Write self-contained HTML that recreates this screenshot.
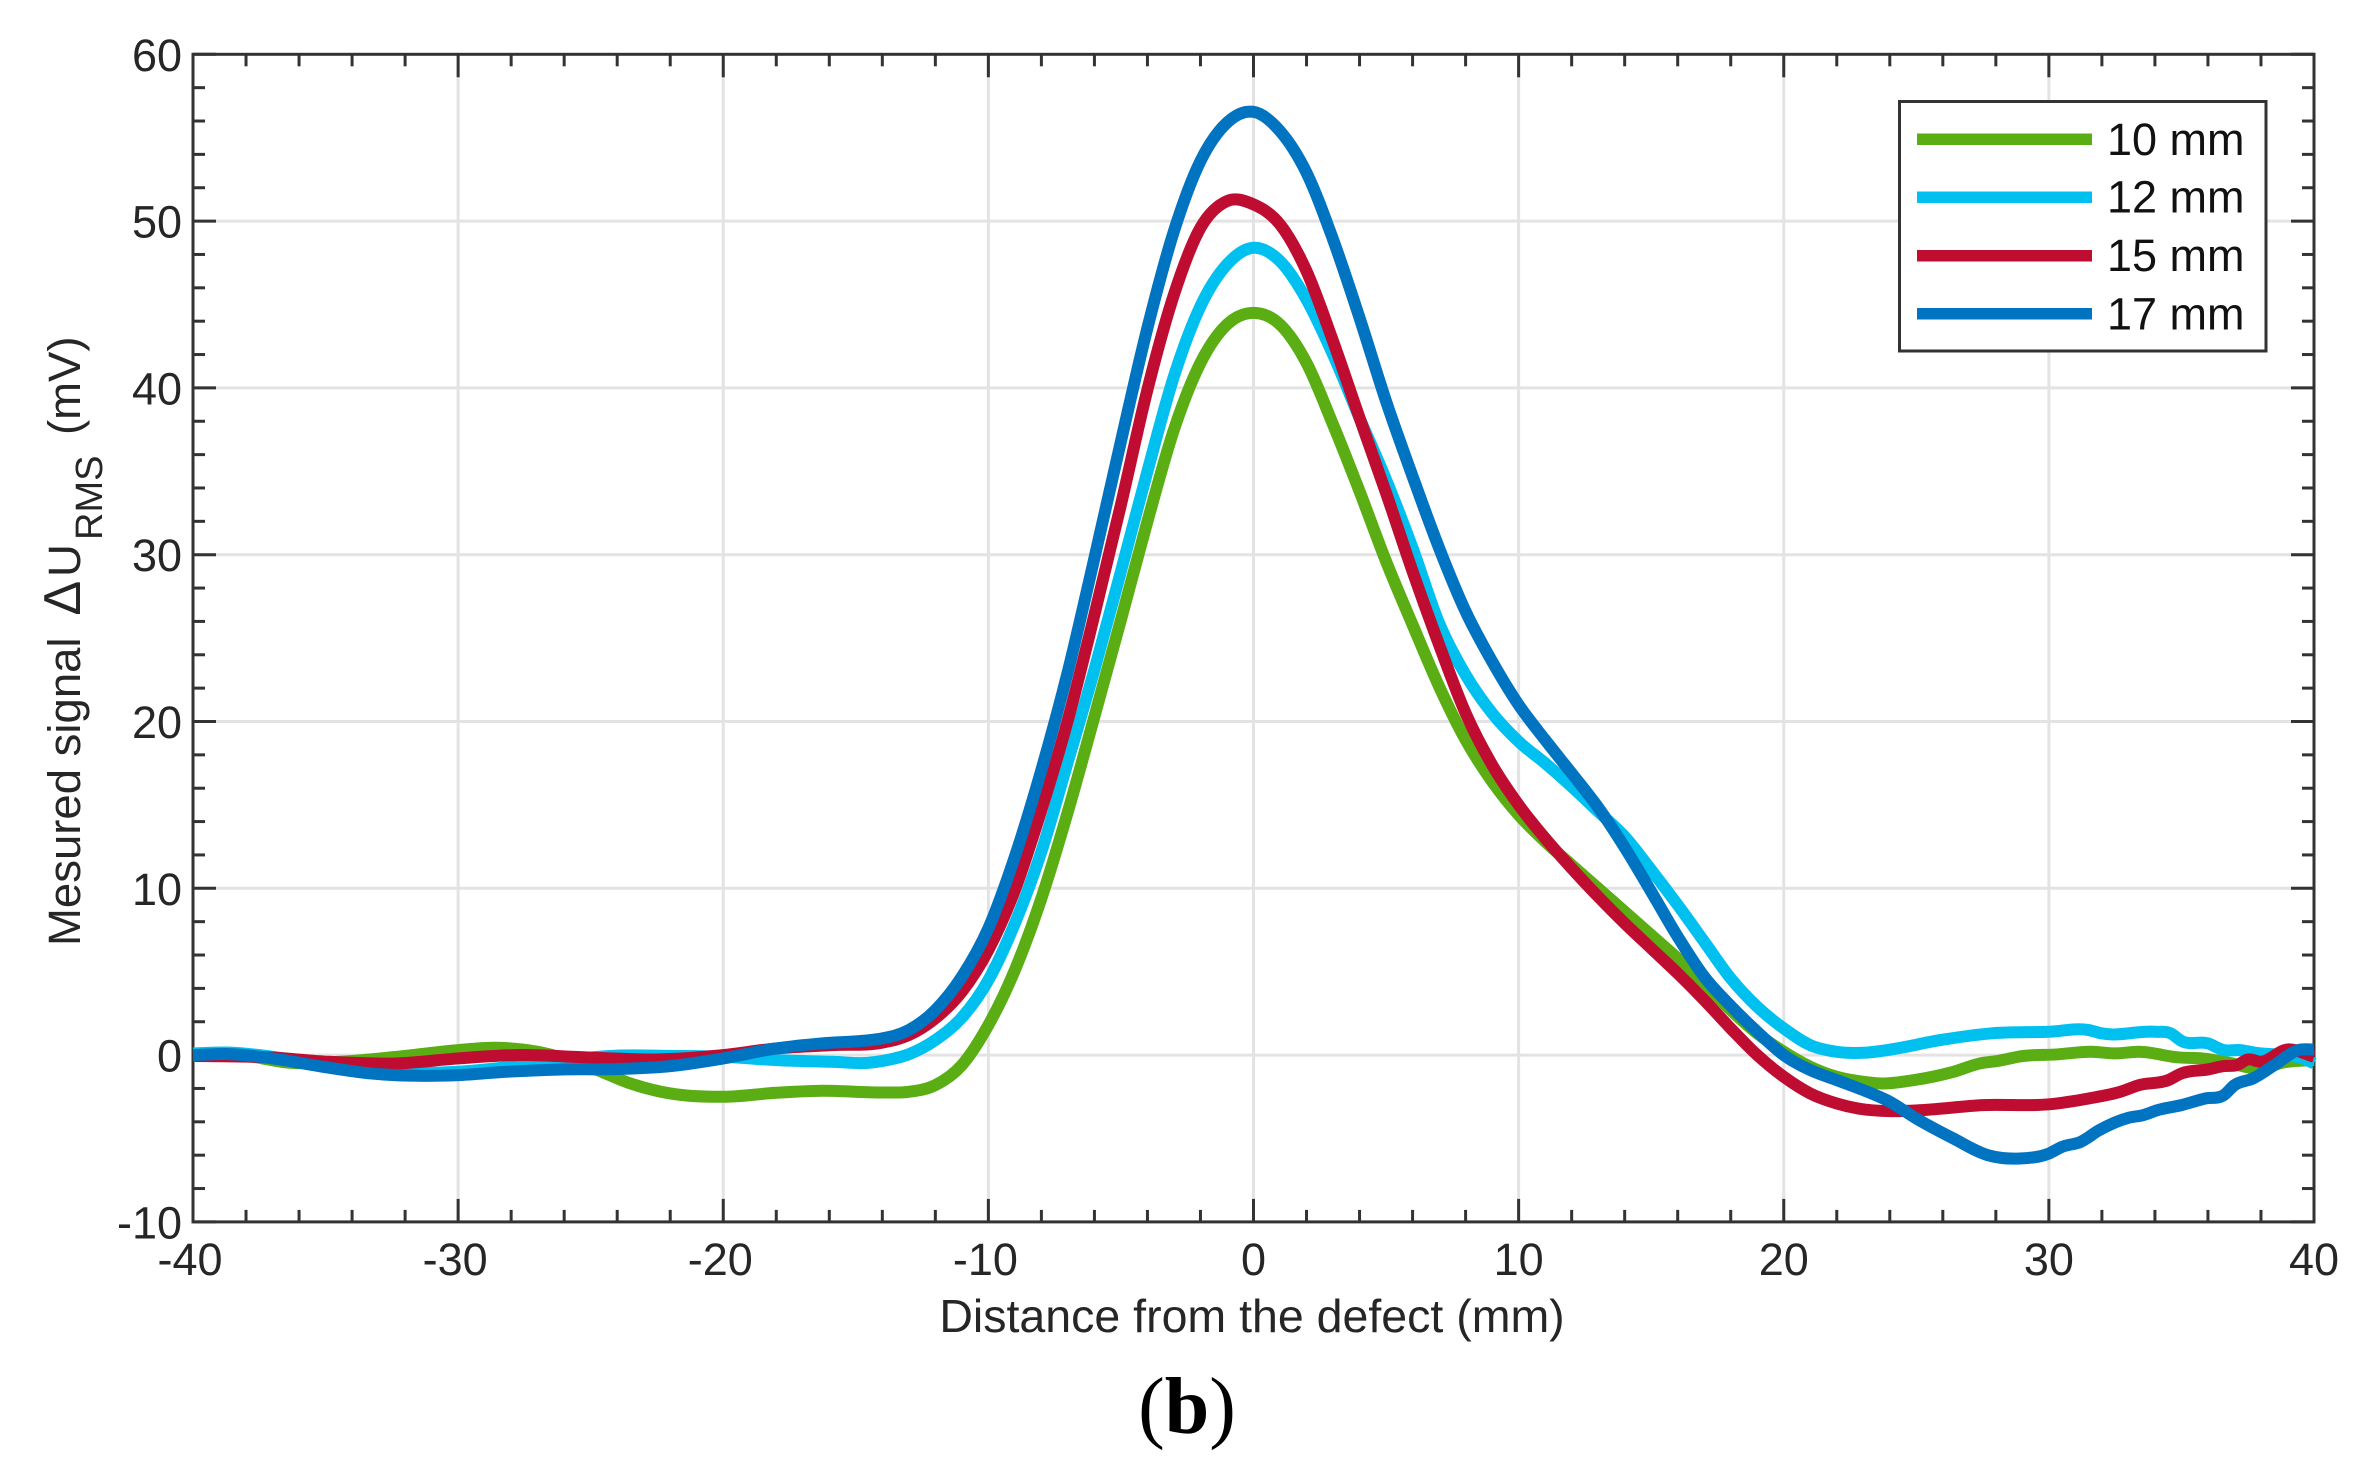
<!DOCTYPE html>
<html lang="en">
<head>
<meta charset="utf-8">
<title>Measured signal vs distance from the defect</title>
<style>
  html, body { margin: 0; padding: 0; background: #fff; }
  body { width: 2360px; height: 1470px; overflow: hidden; }
  svg { display: block; }
  text { font-family: "Liberation Sans", sans-serif; fill: #262626; }
</style>
</head>
<body>
<svg id="chart" xmlns="http://www.w3.org/2000/svg" width="2360" height="1470" viewBox="0 0 2360 1470">
  <rect x="0" y="0" width="2360" height="1470" fill="#ffffff"/>
  <g id="grid"></g>
  <g id="ticks"></g>
  <rect x="193" y="54.3" width="2121" height="1167.6" fill="none" stroke="#333333" stroke-width="3"/>
  <g id="tick-labels"></g>
  <g id="series"></g>

  <g>
    <rect x="1899.5" y="101.5" width="366.5" height="249.5" fill="#ffffff" stroke="#333333" stroke-width="3"/>
    <g>
      <rect x="1917" y="133.5" width="175" height="11.5" fill="#5aae14"/>
      <text x="2107" y="155" font-size="45" style="fill:#111">10 mm</text>
    </g>
    <g>
      <rect x="1917" y="191.5" width="175" height="11.5" fill="#00c0f0"/>
      <text x="2107" y="212.5" font-size="45" style="fill:#111">12 mm</text>
    </g>
    <g>
      <rect x="1917" y="250" width="175" height="11.5" fill="#be0d31"/>
      <text x="2107" y="271" font-size="45" style="fill:#111">15 mm</text>
    </g>
    <g>
      <rect x="1917" y="308" width="175" height="11.5" fill="#0074c0"/>
      <text x="2107" y="329.5" font-size="45" style="fill:#111">17 mm</text>
    </g>
  </g>

  <text x="1252" y="1332" font-size="46.5" text-anchor="middle">Distance from the defect (mm)</text>

  <g transform="translate(80,946) rotate(-90)">
    <text x="0" y="0" font-size="45.5">Mesured signal</text>
    <text x="332" y="0" font-size="52">∆</text>
    <text x="369" y="0" font-size="45.5">U</text>
    <text x="406" y="22" font-size="38">RMS</text>
    <text x="511" y="0" font-size="45.5">(mV)</text>
  </g>

  <text x="1187" y="1433" text-anchor="middle" font-size="80" style="font-family:'Liberation Serif',serif;fill:#000">(<tspan font-weight="bold">b</tspan>)</text>
</svg>

<script>
// Tick labels and axis ranges
const xTickValues = [-40, -30, -20, -10, 0, 10, 20, 30, 40];
const yTickValues = [-10, 0, 10, 20, 30, 40, 50, 60];
const xMinorStep = 2;
const yMinorStep = 2;

// Series: distance (mm) and signal (mV)
const x10 = [-40,-38,-36.4,-34,-32,-30,-28.6,-27,-24.9,-23.5,-22,-20,-18,-16.3,-14,-13,-12,-11,-10,-9,-8,-7,-6,-5,-4,-3,-2,-1,0,1,2,3,4,5,6,7,8,9,10,11,12,13,14,15,16,17,18,19,20,21,22,23,23.7,24.9,26.4,27.4,28.1,29,30.3,31.6,32.5,33.4,34.9,35.8,36.9,37.8,39,40];
const y10 = [0,-0.05,-0.45,-0.35,-0.05,0.3,0.44,0.2,-0.8,-1.7,-2.3,-2.5,-2.26,-2.14,-2.24,-2.2,-1.8,-0.6,1.8,5.1,9.4,14.6,20.3,26.1,32,37.5,41.5,43.8,44.5,43.8,41.5,37.8,33.8,29.6,25.8,22.1,18.9,16.4,14.4,12.8,11.4,10,8.6,7.2,5.8,4.3,2.7,1.3,0.2,-0.7,-1.3,-1.6,-1.7,-1.5,-1,-0.5,-0.34,-0.06,0.04,0.2,0.1,0.2,-0.14,-0.2,-0.5,-0.8,-0.4,-0.3];

const x12 = [-40,-38.6,-37,-35,-33,-30,-28,-26,-24,-22,-20,-18,-15.9,-14.5,-14,-13,-12,-11,-10,-9,-8,-7,-6,-5,-4,-3,-2,-1,0,1,2,3,4,5,6,7,8,9,10,11,12,13,14,15,16,17,18,19,20,21,22,23,23.9,25.9,27.8,30,31.5,32,34,34.6,35,36,36.6,37.2,37.8,38.8,39.6,40];
const y12 = [0.1,0.15,-0.1,-0.6,-1,-1,-0.7,-0.3,-0.03,-0.05,-0.1,-0.3,-0.4,-0.46,-0.35,0.05,0.9,2.25,4.5,7.9,12.2,17.6,23.1,29,35,40.7,44.9,47.4,48.4,47.6,45.3,42,38.2,34.5,30.4,25.9,22.8,20.5,18.8,17.5,16.1,14.6,13.1,11.1,9,6.8,4.6,2.9,1.6,0.6,0.2,0.14,0.3,0.9,1.3,1.4,1.5,1.3,1.4,1.3,0.85,0.7,0.3,0.3,0.14,0,-0.2,-0.5];

const x15 = [-40,-37,-34.9,-32.3,-30,-27.8,-25.1,-22.5,-20,-18,-15.9,-14,-13,-12,-11,-10,-9,-8,-7,-6,-5,-4,-3,-2,-1,0,1,2,3,4,5,6,7,8,9,10,11,12,13,14,15,16,17,18,19,20,21,22,22.8,24,25.2,27.5,30,31.5,32.7,33.4,34.5,35,36,36.6,37.1,37.5,38,39,40];
const y15 = [-0.05,-0.15,-0.4,-0.5,-0.2,0,-0.14,-0.26,0,0.4,0.6,0.75,1.2,2.2,3.8,6.3,9.9,14.7,20.1,26.4,33,39.9,45.6,49.6,51.2,51,49.8,47,42.8,38.2,33.7,29,24.6,20.5,17.4,15,13,11.2,9.5,7.9,6.4,4.9,3.3,1.6,0,-1.3,-2.3,-2.9,-3.2,-3.36,-3.3,-3,-2.95,-2.6,-2.2,-1.8,-1.5,-1.1,-0.86,-0.66,-0.6,-0.26,-0.4,0.34,-0.1];

const x17 = [-40,-38.6,-37,-35.1,-33.3,-31.5,-30,-28.2,-26.1,-24.1,-22,-20,-18,-16.3,-14.7,-14,-13,-12,-11,-10,-9,-8,-7,-6,-5,-4,-3,-2,-1,0,1,2,3,4,5,6,7,8,9,10,11,12,13,14,15,16,17,18,19,20,21,22,23,24,25,26.4,27.7,28.9,30,30.5,31.2,31.9,33,33.55,34.1,35,35.9,36.6,37,37.7,38.6,39.4,40];
const y17 = [0,0.06,-0.2,-0.7,-1.1,-1.24,-1.2,-1,-0.86,-0.84,-0.66,-0.2,0.4,0.7,0.86,1,1.5,2.7,4.7,7.6,11.9,17.1,23,29.8,36.8,43.6,49.4,53.6,55.9,56.55,55.4,52.9,48.9,44.2,39.2,34.7,30.4,26.6,23.6,21,18.9,16.9,14.85,12.45,9.8,7.1,4.7,2.95,1.4,0,-0.9,-1.5,-2.1,-2.8,-3.8,-5,-6,-6.2,-5.9,-5.5,-5.2,-4.5,-3.76,-3.6,-3.3,-3,-2.6,-2.4,-1.8,-1.4,-0.5,0.3,0.34];

// Axis functions
const plotLeft = 193, plotRight = 2314, plotTop = 54.3, plotBottom = 1221.9;
const xMin = -40, xMax = 40, yMin = -10, yMax = 60;
function sx(v) { return plotLeft + (v - xMin) / (xMax - xMin) * (plotRight - plotLeft); }
function sy(v) { return plotBottom - (v - yMin) / (yMax - yMin) * (plotBottom - plotTop); }

const SVG_NS = 'http://www.w3.org/2000/svg';
function make(tag, parent, attrs) {
  const el = document.createElementNS(SVG_NS, tag);
  for (const k in attrs) el.setAttribute(k, attrs[k]);
  parent.appendChild(el);
  return el;
}

const gridGroup = document.getElementById('grid');
const tickGroup = document.getElementById('ticks');
const labelGroup = document.getElementById('tick-labels');
const seriesGroup = document.getElementById('series');
const gridStyle = { stroke: '#e3e3e3', 'stroke-width': 3 };
const tickStyle = { stroke: '#333333', 'stroke-width': 3 };
const majorLen = 23, minorLen = 12;

// Vertical gridlines, x labels
xTickValues.forEach(function (v) {
  if (v !== xMin && v !== xMax) {
    const gl = make('line', gridGroup, Object.assign({ x1: sx(v), x2: sx(v), y1: plotTop, y2: plotBottom }, gridStyle));
    
    
  }
  const t = make('text', labelGroup, { x: sx(v) - (v < 0 ? 3 : 0), y: 1275, 'font-size': 45, 'text-anchor': 'middle' });
  t.textContent = String(v);
  
  
});

// Horizontal gridlines, y labels
yTickValues.forEach(function (v) {
  if (v !== yMin && v !== yMax) {
    const gl = make('line', gridGroup, Object.assign({ x1: plotLeft, x2: plotRight, y1: sy(v), y2: sy(v) }, gridStyle));
    
    
  }
  const t = make('text', labelGroup, { x: 182, y: sy(v) + 16.5, 'font-size': 45, 'text-anchor': 'end' });
  t.textContent = String(v);
  
  
});

// X ticks, bottom and top
for (let v = xMin; v <= xMax; v += xMinorStep) {
  const len = xTickValues.includes(v) ? majorLen : minorLen;
  const tb = make('line', tickGroup, Object.assign({ x1: sx(v), x2: sx(v), y1: plotBottom, y2: plotBottom - len }, tickStyle));
  
  
  const tt = make('line', tickGroup, Object.assign({ x1: sx(v), x2: sx(v), y1: plotTop, y2: plotTop + len }, tickStyle));
  
  
}

// Y ticks, left and right
for (let v = yMin; v <= yMax; v += yMinorStep) {
  const len = yTickValues.includes(v) ? majorLen : minorLen;
  const tl = make('line', tickGroup, Object.assign({ x1: plotLeft, x2: plotLeft + len, y1: sy(v), y2: sy(v) }, tickStyle));
  
  
  const tr = make('line', tickGroup, Object.assign({ x1: plotRight, x2: plotRight - len, y1: sy(v), y2: sy(v) }, tickStyle));
  
  
}

// Smooth path through the data points using cubic Hermite segments
function curvePath(xs, ys) {
  const n = xs.length;
  const m = new Array(n);
  for (let i = 0; i < n; i++) {
    if (i === 0) m[i] = (ys[1] - ys[0]) / (xs[1] - xs[0]);
    else if (i === n - 1) m[i] = (ys[n - 1] - ys[n - 2]) / (xs[n - 1] - xs[n - 2]);
    else {
      const h0 = xs[i] - xs[i - 1], h1 = xs[i + 1] - xs[i];
      const d0 = (ys[i] - ys[i - 1]) / h0, d1 = (ys[i + 1] - ys[i]) / h1;
      m[i] = (h1 * d0 + h0 * d1) / (h0 + h1);
    }
  }
  let d = 'M' + sx(xs[0]).toFixed(2) + ' ' + sy(ys[0]).toFixed(2);
  for (let i = 0; i < n - 1; i++) {
    const h = xs[i + 1] - xs[i];
    d += 'C' + sx(xs[i] + h / 3).toFixed(2) + ' ' + sy(ys[i] + m[i] * h / 3).toFixed(2) + ' ' +
         sx(xs[i + 1] - h / 3).toFixed(2) + ' ' + sy(ys[i + 1] - m[i + 1] * h / 3).toFixed(2) + ' ' +
         sx(xs[i + 1]).toFixed(2) + ' ' + sy(ys[i + 1]).toFixed(2);
  }
  return d;
}

function strokeAttrs(d, color) {
  return { d: d, fill: 'none', stroke: color, 'stroke-width': 12, 'stroke-linejoin': 'round', 'stroke-linecap': 'butt' };
}

const line10 = make('path', seriesGroup, strokeAttrs(curvePath(x10, y10), '#5aae14'));


const line12 = make('path', seriesGroup, strokeAttrs(curvePath(x12, y12), '#00c0f0'));


const line15 = make('path', seriesGroup, strokeAttrs(curvePath(x15, y15), '#be0d31'));


const line17 = make('path', seriesGroup, strokeAttrs(curvePath(x17, y17), '#0074c0'));


</script>
</body>
</html>
